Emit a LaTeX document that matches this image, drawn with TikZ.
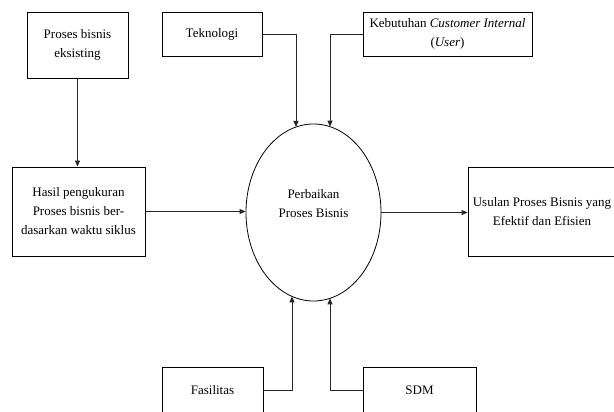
\documentclass[tikz,border=0pt]{standalone}
\usepackage{fontspec}
\setmainfont{Liberation Serif}
\usetikzlibrary{arrows.meta,shapes.geometric,calc}
\begin{document}
\begin{tikzpicture}[x=1pt,y=-1pt,
  box/.style={draw=black,line width=0.8pt,inner sep=0pt,align=center,font=\fontsize{13}{19}\selectfont},
  conn/.style={draw=black!85,line width=0.8pt,-{Triangle[length=6pt,width=5pt]}},
  lbl/.style={inner sep=0pt,align=center,font=\fontsize{13}{19}\selectfont}]
\useasboundingbox (0,0) rectangle (614,412);
\node[box,minimum width=101pt,minimum height=66pt] (eks) at (77.5,45) {Proses bisnis\\eksisting};
\node[box,minimum width=100pt,minimum height=44pt] (tek) at (212,34) {Teknologi};
\node[box,minimum width=169pt,minimum height=44pt] (keb) at (447.5,34) {Kebutuhan \textit{Customer Internal}\\(\textit{User})};
\node[box,minimum width=133pt,minimum height=89pt] (hasil) at (78.5,211.5) {Hasil pengukuran\\Proses bisnis ber-\\dasarkan waktu siklus};
\node[box,minimum width=148pt,minimum height=89pt] (usul) at (542,211.5) {Usulan Proses Bisnis yang\\Efektif dan Efisien};
\node[box,minimum width=101pt,minimum height=46pt] (fas) at (212.5,390) {Fasilitas};
\node[box,minimum width=113pt,minimum height=46pt] (sdm) at (419.5,390) {SDM};
\node[draw=black,line width=0.8pt,ellipse,minimum width=135pt,minimum height=177pt,inner sep=0pt] (perb) at (313.5,212.5) {};
\node[lbl] (perbtxt) at (313.5,204) {Perbaikan\\Proses Bisnis};
\coordinate (ta) at (296,127);
\coordinate (tb) at (330,126.7);
\coordinate (ba) at (292,296.4);
\coordinate (bb) at (330,298.3);
\draw[conn] (eks.south) -- (eks.south |- hasil.north);
\draw[conn] (tek.east) -| (ta);
\draw[conn] (keb.west) -| (tb);
\draw[conn] (fas.east) -| (ba);
\draw[conn] (sdm.west) -| (bb);
\draw[conn] (hasil.east) -- (hasil.east -| perb.west);
\draw[conn] (perb.east) -- (perb.east -| usul.west);
\end{tikzpicture}
\end{document}
